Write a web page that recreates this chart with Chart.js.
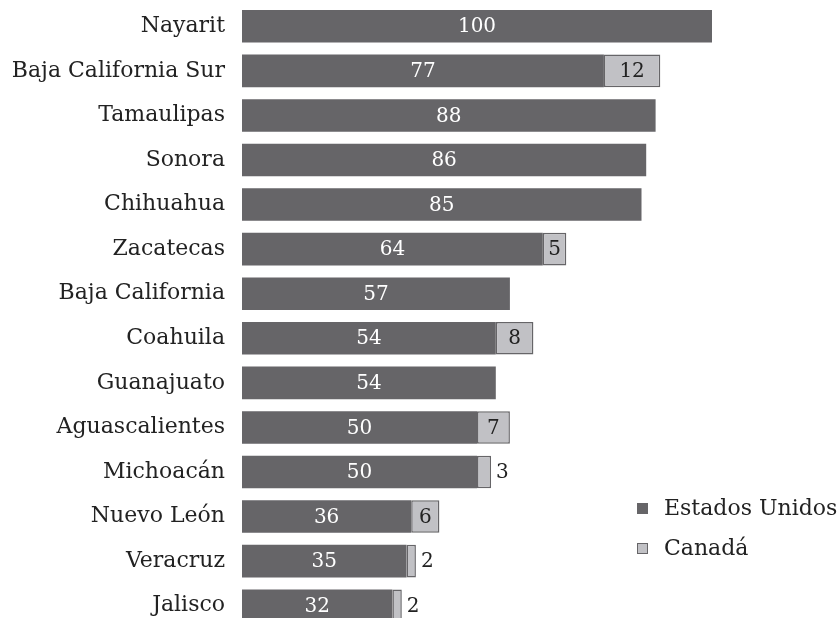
<!DOCTYPE html>
<html>
<head>
<meta charset="utf-8">
<script src="https://cdn.jsdelivr.net/npm/chart.js@4"></script>
<style>
html, body { margin: 0; padding: 0; background: #fff; overflow: hidden; }
#wrap { width: 838px; height: 632px; position: relative; }
</style>
</head>
<body>
<div id="wrap"><canvas id="exportaciones"></canvas></div>
<script>
const estados = ['Nayarit','Baja California Sur','Tamaulipas','Sonora','Chihuahua','Zacatecas','Baja California','Coahuila','Guanajuato','Aguascalientes','Michoacán','Nuevo León','Veracruz','Jalisco'];
const estados_unidos = [100,77,88,86,85,64,57,54,54,50,50,36,35,32];
const canada = [null,12,null,null,null,5,null,8,null,7,3,6,2,2];

const fuente = '"DejaVu Serif", serif';
const gris_oscuro = '#666568';
const gris_claro = '#c1c1c5';

// etiquetas de valores y leyenda dibujadas a mano
const etiquetas = {
    id: 'etiquetas',
    afterDatasetsDraw(chart) {
        const ctx = chart.ctx;
        ctx.save();
        ctx.font = '20px ' + fuente;
        ctx.textBaseline = 'middle';
        chart.data.datasets.forEach((ds, i) => {
            const meta = chart.getDatasetMeta(i);
            meta.data.forEach((bar, j) => {
                const v = ds.data[j];
                if (v == null) return;
                const left = bar.base, right = bar.x, w = right - left;
                const txt = String(v);
                const tw = ctx.measureText(txt).width;
                if (i === 0) {
                    ctx.fillStyle = '#ffffff';
                    ctx.textAlign = 'center';
                    ctx.fillText(txt, (left + right) / 2, bar.y + 1);
                } else if (w > tw + 6) {
                    ctx.fillStyle = '#222222';
                    ctx.textAlign = 'center';
                    ctx.fillText(txt, (left + right) / 2, bar.y + 1);
                } else {
                    ctx.fillStyle = '#222222';
                    ctx.textAlign = 'left';
                    ctx.fillText(txt, right + 5, bar.y + 1);
                }
            });
        });
        // leyenda
        const items = [
            {t: 'Estados Unidos', c: gris_oscuro, y: 508},
            {t: 'Canadá', c: gris_claro, y: 548}
        ];
        ctx.font = '22px ' + fuente;
        ctx.textAlign = 'left';
        items.forEach(it => {
            ctx.fillStyle = it.c;
            ctx.fillRect(637, it.y - 5, 11, 11);
            if (it.c === gris_claro) {
                ctx.strokeStyle = gris_oscuro;
                ctx.lineWidth = 1;
                ctx.strokeRect(637.5, it.y - 4.5, 10, 10);
            }
            ctx.fillStyle = '#222222';
            ctx.fillText(it.t, 664, it.y + 1);
        });
        ctx.restore();
    }
};

const ctx_exp = document.getElementById('exportaciones').getContext('2d');
const graf_exp = new Chart(ctx_exp, {
type: 'bar',
data: {
labels: estados,
datasets: [{
    label: 'Estados Unidos',
    data: estados_unidos,
    backgroundColor: gris_oscuro,
    borderWidth: 0,
    barPercentage: 0.73,
    categoryPercentage: 1
},{
    label: 'Canadá',
    data: canada,
    backgroundColor: gris_claro,
    borderColor: gris_oscuro,
    borderWidth: 1.5,
    borderSkipped: false,
    barPercentage: 0.73,
    categoryPercentage: 1
}]
},
options: {
indexAxis: 'y',
responsive: true,
maintainAspectRatio: false,
animation: false,
layout: { padding: { top: 4, bottom: 4, right: 126, left: 0 } },
plugins: {
    legend: { display: false },
    tooltip: { enabled: false }
},
scales: {
    x: {
        stacked: true,
        min: 0,
        max: 100,
        display: false
    },
    y: {
        stacked: true,
        border: { display: false },
        grid: { display: false, drawTicks: false },
        ticks: {
            padding: 17,
            color: '#222222',
            font: { family: fuente, size: 22 }
        },
        afterFit(scale) {
            scale.width = 242;
            scale.paddingTop = 0;
            scale.paddingBottom = 0;
        }
    }
}
},
plugins: [etiquetas]
}
);
</script>
</body>
</html>
